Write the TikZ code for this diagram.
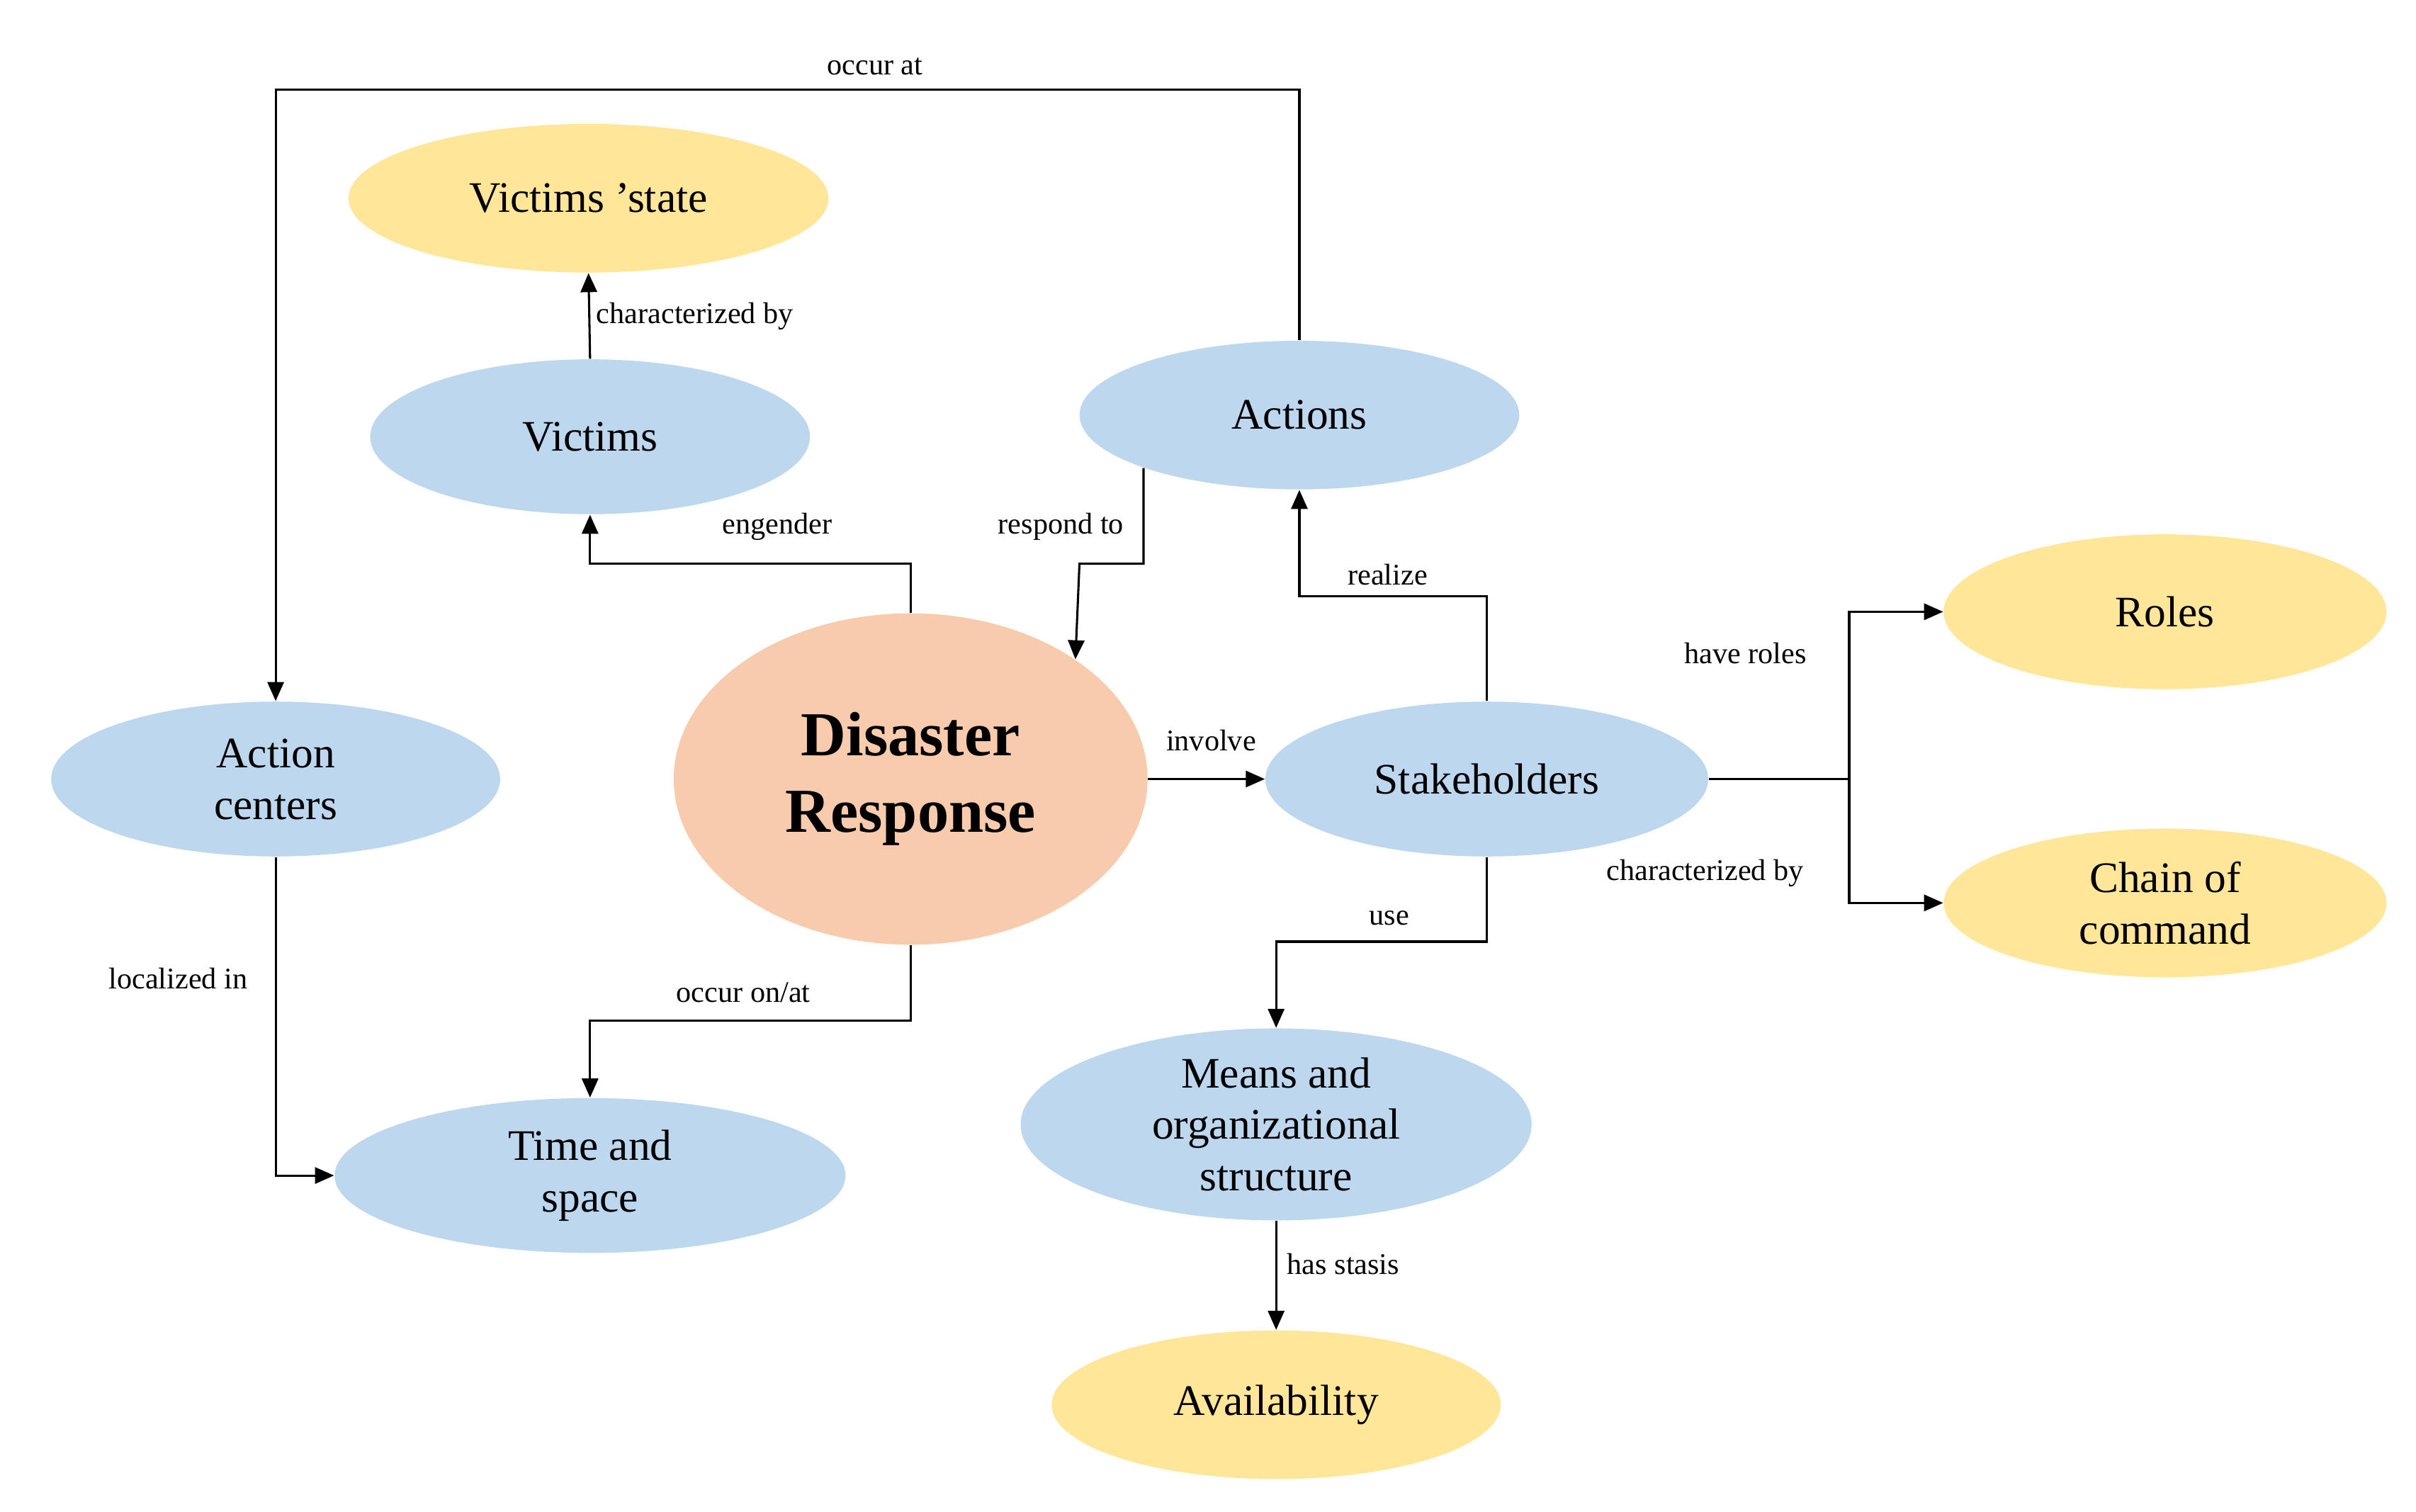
\documentclass[tikz,border=0pt]{standalone}
\usepackage{fontspec}
\setmainfont{Liberation Serif}
\usetikzlibrary{shapes.geometric,arrows.meta}
\definecolor{cblue}{HTML}{BDD7EE}
\definecolor{cyellow}{HTML}{FFE699}
\definecolor{corange}{HTML}{F8CBAD}
\begin{document}
\begin{tikzpicture}[x=0.02cm,y=-0.02cm,
  el/.style={ellipse,inner sep=0pt,align=center,font=\fontsize{16}{19}\selectfont},
  bl/.style={el,fill=cblue}, yl/.style={el,fill=cyellow},
  lab/.style={font=\fontsize{11}{13}\selectfont,inner sep=1pt},
  ar/.style={draw,line width=0.8pt,-{Triangle[length=7pt,width=6pt]}},
  ln/.style={draw,line width=0.8pt}]
\useasboundingbox (0,0) rectangle (1560,976);
\node[yl,minimum width=310\pgflinewidth,minimum width=6.2cm,minimum height=1.92cm] (vs) at (380,128) {Victims 'state};
\node[bl,minimum width=5.68cm,minimum height=2cm] (vic) at (381,282) {Victims};
\node[bl,minimum width=5.68cm,minimum height=1.92cm] (act) at (839,268) {Actions};
\node[bl,minimum width=5.8cm,minimum height=2cm] (ac) at (178,503) {Action\\centers};
\node[el,fill=corange,minimum width=6.12cm,minimum height=4.28cm,font=\bfseries\fontsize{23}{28}\selectfont] (dr) at (588,503) {Disaster\\Response};
\node[bl,minimum width=5.72cm,minimum height=2cm] (sh) at (960,503) {Stakeholders};
\node[yl,minimum width=5.72cm,minimum height=2cm] (ro) at (1398,395) {Roles};
\node[yl,minimum width=5.72cm,minimum height=1.92cm] (coc) at (1398,583) {Chain of\\command};
\node[bl,minimum width=6.6cm,minimum height=2cm] (ts) at (381,759) {Time and\\space};
\node[bl,minimum width=6.6cm,minimum height=2.48cm] (me) at (824,726) {Means and\\organizational\\structure};
\node[yl,minimum width=5.8cm,minimum height=1.92cm] (av) at (824,907) {Availability};

\coordinate (top) at (839,58);
\coordinate (br) at (1194,503);
\draw[ar] (act.north) -- (top) -| (ac.north);
\node[lab] at (565,43) {occur at};
\draw[ar] (vic.north) -- (vs.south);
\node[lab,anchor=west] at (383,204) {characterized by};
\draw[ar] (dr.north) |- (470,364) -| (vic.south);
\node[lab] at (502,340) {engender};
\draw[ar] (act.south west) |- (697,364) -- (dr.36);
\node[lab] at (685,340) {respond to};
\draw[ar] (sh.north) |- (880,385) -| (act.south);
\node[lab] at (896,371) {realize};
\draw[ar] (dr.east) -- (sh.west);
\node[lab] at (782,478) {involve};
\draw[ln] (sh.east) -- (br);
\draw[ar] (br) |- (ro.west);
\draw[ar] (br) |- (coc.west);
\node[lab] at (1127,422) {have roles};
\node[lab] at (1101,564) {characterized by};
\draw[ar] (sh.south) |- (880,608) -| (me.north);
\node[lab] at (897,593) {use};
\draw[ar] (me.south) -- (av.north);
\node[lab,anchor=west] at (829,816) {has stasis};
\draw[ar] (dr.south) |- (480,659) -| (ts.north);
\node[lab] at (480,641) {occur on/at};
\draw[ar] (ac.south) |- (ts.west);
\node[lab] at (115,632) {localized in};
\end{tikzpicture}
\end{document}
